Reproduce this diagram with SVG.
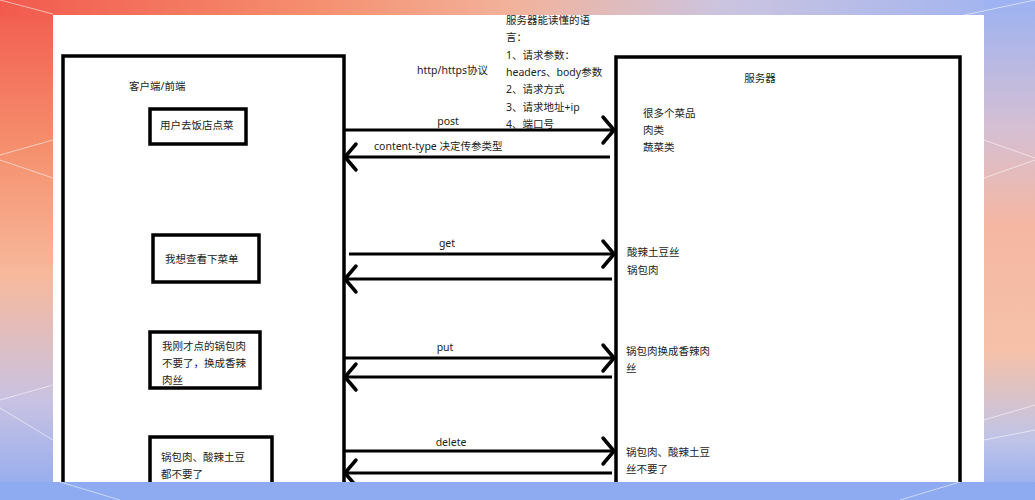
<svg xmlns="http://www.w3.org/2000/svg" width="1035" height="500" viewBox="0 0 1035 500">
<defs>
<linearGradient id="gTop" x1="0" y1="0" x2="1" y2="0">
<stop offset="0" stop-color="#f25a4e"/><stop offset="0.3" stop-color="#f58e6e"/><stop offset="0.5" stop-color="#f2b39c"/><stop offset="0.7" stop-color="#cbc4e0"/><stop offset="1" stop-color="#9cb2f2"/>
</linearGradient>
<linearGradient id="gLeft" x1="0" y1="0" x2="0" y2="1">
<stop offset="0" stop-color="#f25a4e"/><stop offset="0.3" stop-color="#f5906e"/><stop offset="0.55" stop-color="#f7b99c"/><stop offset="0.8" stop-color="#c9c2e2"/><stop offset="1" stop-color="#8eaaf0"/>
</linearGradient>
<linearGradient id="gRight" x1="0" y1="0" x2="0" y2="1">
<stop offset="0" stop-color="#9cb2f2"/><stop offset="0.25" stop-color="#d4bfd4"/><stop offset="0.45" stop-color="#f5b7a2"/><stop offset="0.7" stop-color="#f6c1a8"/><stop offset="0.88" stop-color="#bfc4e8"/><stop offset="1" stop-color="#8eaaf0"/>
</linearGradient>
<marker id="arr" markerUnits="userSpaceOnUse" markerWidth="16" markerHeight="30" viewBox="-14 -15 16 30" refX="0" refY="0" orient="auto" overflow="visible">
<path d="M-11,-13 L0,0 L-11,13" fill="none" stroke="#000" stroke-width="3.5" stroke-linecap="round" stroke-linejoin="round"/>
</marker>
<style>
text{font-family:"Noto Sans","Noto Sans CJK SC",sans-serif;font-size:10.5px;fill:#222}
.box{fill:none;stroke:#000;stroke-width:3.5}
.big{fill:none;stroke:#000;stroke-width:3.5}
.ln{stroke:#000;stroke-width:3;fill:none}
.deco{stroke:#ffffff;stroke-opacity:0.55;stroke-width:1;fill:none}
</style>
</defs>
<g id="background">
<rect x="0" y="0" width="1035" height="500" fill="url(#gLeft)"/>
<rect x="0" y="0" width="1035" height="16" fill="url(#gTop)"/>
<rect x="984" y="0" width="51" height="500" fill="url(#gRight)"/>
<path class="deco" d="M0,155 L53,140 M0,160 L53,178 M0,400 L53,385 M0,408 L53,440 M984,140 L1035,158 M984,178 L1035,160 M984,420 L1035,405 M984,440 L1035,430 M0,0 L53,14 M960,16 L1035,0"/>
<rect x="53" y="15" width="931" height="467" fill="#ffffff"/>
</g>
<g id="client">
<rect class="big" x="63" y="56" width="281" height="470"/>
<text x="129" y="90">客户端/前端</text>
</g>
<g id="server">
<rect class="big" x="616" y="57" width="344" height="470"/>
<text x="760" y="82" text-anchor="middle">服务器</text>
<text x="643" y="117">很多个菜品</text>
<text x="643" y="134">肉类</text>
<text x="643" y="151">蔬菜类</text>
<text x="627" y="256">酸辣土豆丝</text>
<text x="627" y="274">锅包肉</text>
<text x="626" y="355">锅包肉换成香辣肉</text>
<text x="626" y="372">丝</text>
<text x="626" y="456">锅包肉、酸辣土豆</text>
<text x="626" y="473">丝不要了</text>
</g>
<g id="req-order">
<rect class="box" x="150" y="109" width="96" height="35"/>
<text x="160" y="129">用户去饭店点菜</text>
</g>
<g id="req-menu">
<rect class="box" x="153" y="235" width="106" height="47"/>
<text x="165" y="263">我想查看下菜单</text>
</g>
<g id="req-change">
<rect class="box" x="150" y="332" width="110" height="56"/>
<text x="162" y="350">我刚才点的锅包肉</text>
<text x="162" y="367">不要了，换成香辣</text>
<text x="162" y="384">肉丝</text>
</g>
<g id="req-delete">
<rect class="box" x="150" y="437" width="122" height="80"/>
<text x="161" y="461">锅包肉、酸辣土豆</text>
<text x="161" y="478">都不要了</text>
</g>
<g id="notes">
<text x="417" y="74">http/https协议</text>
<text x="506" y="24">服务器能读懂的语</text>
<text x="506" y="41">言：</text>
<text x="506" y="59">1、请求参数：</text>
<text x="506" y="76">headers、body参数</text>
<text x="506" y="93">2、请求方式</text>
<text x="506" y="111">3、请求地址+ip</text>
<text x="506" y="128">4、端口号</text>
</g>
<g id="connectors">
<line class="ln" x1="345" y1="130" x2="614" y2="130" marker-end="url(#arr)"/>
<line class="ln" x1="610" y1="157" x2="345" y2="157" marker-end="url(#arr)"/>
<line class="ln" x1="349" y1="254" x2="614" y2="254" marker-end="url(#arr)"/>
<line class="ln" x1="612" y1="279" x2="345" y2="279" marker-end="url(#arr)"/>
<line class="ln" x1="345" y1="358" x2="614" y2="358" marker-end="url(#arr)"/>
<line class="ln" x1="612" y1="377" x2="345" y2="377" marker-end="url(#arr)"/>
<line class="ln" x1="345" y1="451" x2="614" y2="451" marker-end="url(#arr)"/>
<line class="ln" x1="612" y1="473" x2="345" y2="473" marker-end="url(#arr)"/>
<text x="448" y="125" text-anchor="middle">post</text>
<text x="374" y="150">content-type 决定传参类型</text>
<text x="447" y="247" text-anchor="middle">get</text>
<text x="445" y="351" text-anchor="middle">put</text>
<text x="451" y="446" text-anchor="middle">delete</text>
</g>
<g id="bottom-band">
<rect x="0" y="482" width="1035" height="18" fill="#8eaaf0"/>
<path class="deco" d="M60,482 L120,500 M900,500 L960,482"/>
</g>
</svg>
